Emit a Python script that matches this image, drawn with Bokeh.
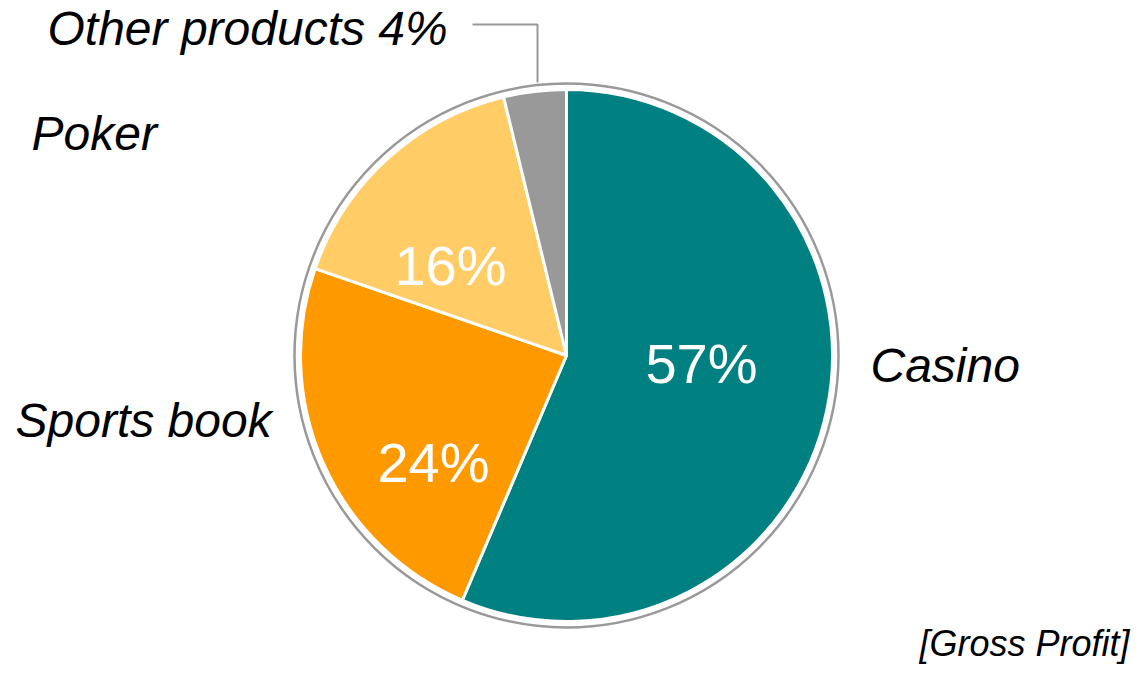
import numpy as np
from bokeh.plotting import figure
from bokeh.models import Range1d, ColumnDataSource
from bokeh.core.properties import value
from bokeh.embed import file_html
from bokeh.resources import INLINE

# ---- data ----
categories = ["Casino", "Sports book", "Poker", "Other products"]
shares = [56.4, 23.9, 15.9, 3.8]
pct_labels = ["57%", "24%", "16%", "4%"]   # printed labels
colors = ["#008080", "#FF9900", "#FFCC66", "#999999"]
note = "[Gross Profit]"

# ---- layout (pixel-like data coordinates, y up) ----
W, H = 1132, 664
p = figure(width=W, height=H, output_backend="svg", toolbar_location=None,
           x_range=Range1d(0, W), y_range=Range1d(0, H),
           min_border=0, background_fill_color="white", border_fill_color="white")
p.axis.visible = False
p.grid.visible = False
p.outline_line_color = None

def Y(py):
    return H - py

def TY(py, fs):
    # baseline correction for text rendering
    return H - py + 0.36 * fs

cx, cy, r = 566, Y(355), 266
vals = np.array(shares, dtype=float)
frac = vals / vals.sum()
cum = np.concatenate([[0], np.cumsum(frac)])
start = np.pi / 2 - 2 * np.pi * cum[:-1]
end = np.pi / 2 - 2 * np.pi * cum[1:]

src = ColumnDataSource(dict(start=start, end=end, color=colors, cat=categories))
p.circle(x=[cx], y=[cy], radius=272, fill_color="white", line_color="#999999", line_width=2.5)
p.wedge(x=cx, y=cy, radius=r, start_angle="start", end_angle="end", direction="clock",
        fill_color="color", line_color="white", line_width=3, source=src)

font = value("Liberation Sans")

# percentage labels inside slices
in_pos = [(701, 383), (433, 482), (450, 285)]
for (px, py), lab in zip(in_pos, pct_labels[:3]):
    p.text(x=[px], y=[TY(py, 56)], text=[lab], text_color="white", text_align="center",
           text_baseline="alphabetic", text_font=font, text_font_size="56px")

# category labels
def label(x, py, txt):
    p.text(x=[x], y=[TY(py, 48)], text=[txt], text_font=font, text_font_style="italic",
           text_font_size="48px", text_color="black", text_baseline="alphabetic")

label(870, 382, categories[0])
label(15, 437, categories[1])
label(31, 150, categories[2])
label(47, 45, categories[3] + " " + pct_labels[3])

# leader line for Other products
p.line(x=[472, 537, 537], y=[Y(24), Y(24), Y(82)], line_color="#999999", line_width=2)

# note
p.text(x=[1129], y=[TY(656, 36)], text=[note], text_font=font, text_font_style="italic",
       text_font_size="36px", text_color="black", text_align="right",
       text_baseline="alphabetic")

open("out.html", "w").write(file_html(p, INLINE))
